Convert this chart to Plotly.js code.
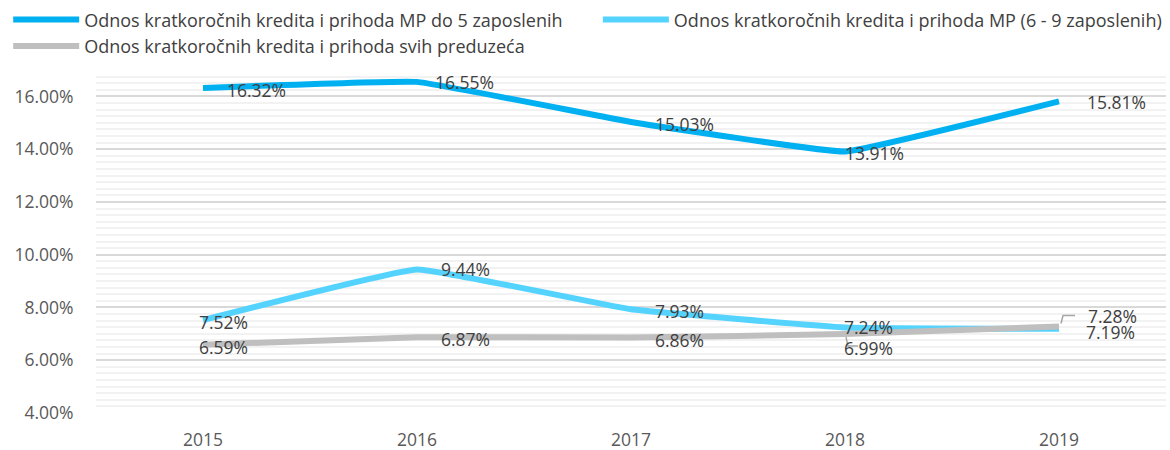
<!DOCTYPE html>
<html><head><meta charset="utf-8">
<script src="https://cdn.plot.ly/plotly-3.0.1.min.js"></script>
<style>html,body{margin:0;padding:0;background:#fff}</style>
</head><body>
<div id="chart" style="width:1170px;height:450px"></div>
<script>
var years = ['2015', '2016', '2017', '2018', '2019'];
var seriesNames = [
  'Odnos kratkoročnih kredita i prihoda MP do 5 zaposlenih',
  'Odnos kratkoročnih kredita i prihoda MP (6 - 9 zaposlenih)',
  'Odnos kratkoročnih kredita i prihoda svih preduzeća'
];
var mpDo5 = [16.32, 16.55, 15.03, 13.91, 15.81];
var mp6do9 = [7.52, 9.44, 7.93, 7.24, 7.19];
var sviPreduzeca = [6.59, 6.87, 6.86, 6.99, 7.28];

var values = [mpDo5, mp6do9, sviPreduzeca];
var colors = ['#00B0F0', '#55D3FF', '#BFBFBF'];
var legendOf = ['legend', 'legend2', 'legend'];
// label offsets in pixels (style only)
var labelShift = [
  [[53, -2], [47, 0], [53, -2], [29, -1], [57, -1]],
  [[20, -2], [48, 0], [48, -2], [23, 1], [51, -3]],
  [[20, -2], [48, -2], [48, -2], [23, -14], [53, 10]]
];

var W = 1170, H = 450, M = {l: 96, r: 4, t: 70, b: 37};
var yRange = [4, 17];
var pxX = (W - M.l - M.r) / years.length;           // pixels per category
var pxY = (H - M.t - M.b) / (yRange[1] - yRange[0]); // pixels per percent

var font = 'Open Sans, Noto Sans, sans-serif';
var traces = values.map(function (v, i) {
  return {
    x: years, y: v, name: seriesNames[i], type: 'scatter', mode: 'lines',
    line: {color: colors[i], width: 6, shape: 'spline', smoothing: 0.25},
    legend: legendOf[i], hoverinfo: 'skip'
  };
});

var annotations = [];
values.forEach(function (v, i) {
  v.forEach(function (val, j) {
    annotations.push({
      x: j, y: val, xref: 'x', yref: 'y',
      text: val.toFixed(2) + '%', showarrow: false,
      xshift: labelShift[i][j][0], yshift: labelShift[i][j][1],
      font: {family: font, size: 17.5, color: '#404040'}
    });
  });
});

// leader lines (gray series, 2018 and 2019): pixel offsets from the point
function leader(j, val, pts) {
  var d = pts.map(function (p, k) {
    return (k ? 'L' : 'M') + (j + p[0] / pxX) + ',' + (val - p[1] / pxY);
  }).join(' ');
  return {type: 'path', xref: 'x', yref: 'y', path: d,
          line: {color: '#A6A6A6', width: 1.5}, layer: 'above'};
}
var shapes = [
  leader(3, sviPreduzeca[3], [[1, 3], [3, 12], [13, 12]]),
  leader(4, sviPreduzeca[4], [[2, -3], [4, -11], [16, -11]])
];

var legendStyle = function (x) {
  return {
    orientation: 'v', xref: 'container', x: x, xanchor: 'left',
    yref: 'container', y: 0.997, yanchor: 'top', itemwidth: 66,
    font: {family: font, size: 18, color: '#404040'},
    tracegroupgap: 0, traceorder: 'normal', bgcolor: 'rgba(0,0,0,0)'
  };
};

var layout = {
  width: W, height: H,
  margin: {l: M.l, r: M.r, t: M.t, b: M.b, autoexpand: false},
  paper_bgcolor: '#fff', plot_bgcolor: '#fff',
  font: {family: font, size: 15, color: '#595959'},
  showlegend: true,
  legend: legendStyle(0.007),
  legend2: legendStyle(0.511),
  xaxis: {
    type: 'category', range: [-0.5, 4.5], showgrid: false, zeroline: false,
    showline: false, ticks: 'outside', ticklen: 11, tickcolor: 'rgba(0,0,0,0)',
    tickfont: {family: font, size: 17.5, color: '#595959'}
  },
  yaxis: {
    range: yRange, dtick: 2, tick0: 0, tickformat: '.2f', ticksuffix: '%',
    showgrid: true, gridcolor: '#D9D9D9', gridwidth: 2, zeroline: false,
    ticks: 'outside', ticklen: 18, tickcolor: 'rgba(0,0,0,0)',
    tickfont: {family: font, size: 17.5, color: '#595959'},
    minor: {dtick: 0.25, tick0: 0, showgrid: true, gridcolor: '#F2F2F2', gridwidth: 2}
  },
  annotations: annotations,
  shapes: shapes
};
Plotly.newPlot('chart', traces, layout, {displayModeBar: false, responsive: false});
</script>
</body></html>
